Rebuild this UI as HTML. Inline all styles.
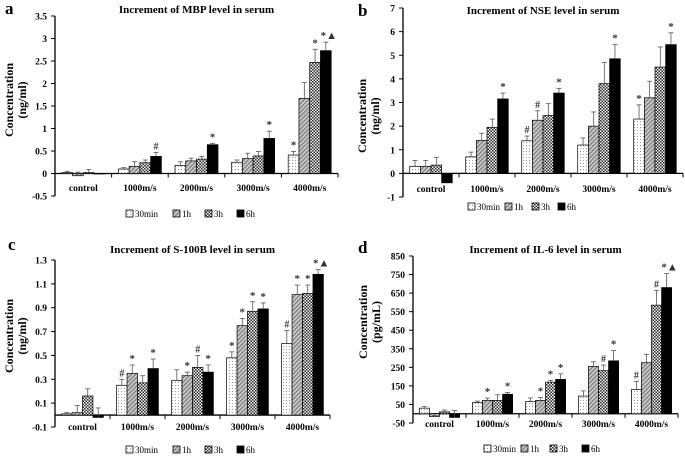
<!DOCTYPE html>
<html><head><meta charset="utf-8"><style>
html,body{margin:0;padding:0;background:#fff;}
svg{display:block;font-family:"Liberation Serif",serif;font-weight:bold;}
</style></head><body>
<svg id="fig" width="685" height="457" viewBox="0 0 685 457" xmlns="http://www.w3.org/2000/svg">
<defs>
<pattern id="p30" width="3" height="3" patternUnits="userSpaceOnUse"><rect width="3" height="3" fill="#fff"/><rect x="1" y="1" width="1" height="1" fill="#999"/></pattern>
<pattern id="p1h" width="3" height="3" patternUnits="userSpaceOnUse" patternTransform="rotate(45)"><rect width="3" height="3" fill="#ccc"/><rect width="1.2" height="3" fill="#777"/></pattern>
<pattern id="p3h" width="3" height="3" patternUnits="userSpaceOnUse"><rect width="3" height="3" fill="#fff"/><rect width="1.5" height="1.5" fill="#222"/><rect x="1.5" y="1.5" width="1.5" height="1.5" fill="#222"/></pattern>
</defs>
</svg>
<script>
const categories=["control","1000m/s","2000m/s","3000m/s","4000m/s"];
const seriesNames=["30min","1h","3h","6h"];
const aTitle="Increment of MBP level in serum";
const aTicks=["-0.5","0","0.5","1","1.5","2","2.5","3","3.5"];
const a30=[0.02,0.10,0.18,0.25,0.41];
const a1h=[-0.05,0.16,0.28,0.33,1.67];
const a3h=[0.02,0.24,0.32,0.39,2.47];
const a6h=[0.0,0.38,0.64,0.78,2.73];
const aErr=[[0.03,0.03,0.08,0.05,0.08],[0.08,0.10,0.06,0.12,0.35],[0.07,0.06,0.06,0.10,0.29],[0,0.09,0.03,0.16,0.19]];
const aMarks=[["","","","","*"],["","","","",""],["","","","","*"],["","#","*","*","*▲"]];
const bTitle="Increment of NSE level in serum";
const bTicks=["-1","0","1","2","3","4","5","6","7"];
const b30=[0.3,0.7,1.38,1.2,2.3];
const b1h=[0.3,1.4,2.25,2.0,3.2];
const b3h=[0.35,1.95,2.45,3.8,4.5];
const b6h=[-0.4,3.15,3.4,4.85,5.45];
const bErr=[[0.25,0.2,0.2,0.3,0.6],[0.25,0.3,0.4,0.6,0.7],[0.33,0.35,0.5,0.9,0.85],[0,0.25,0.2,0.6,0.5]];
const bMarks=[["","","#","","*"],["","","#","",""],["","","","",""],["","*","*","*","*"]];
const cTitle="Increment of S-100B level in serum";
const cTicks=["-0.1","0.1","0.3","0.5","0.7","0.9","1.1","1.3"];
const c30=[0.01,0.25,0.29,0.48,0.60];
const c1h=[0.02,0.35,0.33,0.75,1.01];
const c3h=[0.16,0.27,0.40,0.87,1.02];
const c6h=[-0.02,0.39,0.36,0.89,1.18];
const cErr=[[0.01,0.05,0.09,0.05,0.11],[0.06,0.07,0.03,0.06,0.08],[0.06,0.06,0.1,0.08,0.07],[0.08,0.08,0.06,0.05,0.04]];
const cMarks=[["","#","","*","#"],["","*","*","*","*"],["","","#","*","*"],["","*","*","*","*▲"]];
const dTitle="Increment of IL-6 level in serum";
const dTicks=["-50","50","150","250","350","450","550","650","750","850"];
const d30=[30,60,65,95,130];
const d1h=[-15,72,72,255,275];
const d3h=[10,72,170,232,585];
const d6h=[-20,105,185,285,680];
const dErr=[[8,8,20,28,45],[5,12,15,25,45],[10,30,10,30,80],[38,10,30,55,75]];
const dMarks=[["","","","","#"],["","*","*","",""],["","","*","#","#"],["","*","*","*","*▲"]];

const NS="http://www.w3.org/2000/svg";
const svg=document.getElementById('fig');
const fills=["url(#p30)","url(#p1h)","url(#p3h)","#000"];
function mk(tag,attrs,parent){const e=document.createElementNS(NS,tag);for(const k in attrs)e.setAttribute(k,attrs[k]);(parent||svg).appendChild(e);return e;}
function txt(s,attrs,parent){const e=mk('text',attrs,parent);e.textContent=s;return e;}

function panel(cfg){
  const g=mk('g',{});
  
  
  const ticks=cfg.ticks.map(Number);
  const vmin=ticks[0],vmax=ticks[ticks.length-1];
  const y=v=>cfg.yTop+(vmax-v)/(vmax-vmin)*(cfg.yBot-cfg.yTop);
  const step=(cfg.xEnd-cfg.x0)/categories.length;
  const cx=i=>cfg.x0+step*(i+0.5);
  const bw=step*0.19;
  const L=txt(cfg.letter,{x:cfg.lx,y:cfg.ly,'font-size':17},g);
  
  
  const T=txt(cfg.title,{x:(cfg.x0+cfg.xEnd)/2,y:cfg.ty,'font-size':11,'text-anchor':'middle'},g);
  
  
  const yt=mk('text',{'font-size':12,'text-anchor':'middle',transform:`translate(${cfg.yx},${cfg.yy}) rotate(-90)`},g);
  
  
  const t1=mk('tspan',{x:0,y:0},yt);t1.textContent="Concentration";
  const t2=mk('tspan',{x:0,y:13},yt);t2.textContent=cfg.unit;
  const ya=mk('line',{x1:cfg.x0,x2:cfg.x0,y1:y(vmax),y2:y(vmin),stroke:'#000','stroke-width':1.3},g);
  
  
  cfg.ticks.forEach((t,i)=>{
    const v=ticks[i];
    mk('line',{x1:cfg.x0-4,x2:cfg.x0,y1:y(v),y2:y(v),stroke:'#000','stroke-width':1},g);
    const tl=txt(t,{x:cfg.x0-8,y:y(v)+3.5,'font-size':9.5,'text-anchor':'end'},g);
    
    
  });
  const xa=mk('line',{x1:cfg.x0,x2:cfg.xEnd,y1:y(0),y2:y(0),stroke:'#000','stroke-width':1.3},g);
  
  
  for(let i=0;i<=categories.length;i++){
    mk('line',{x1:cfg.x0+step*i,x2:cfg.x0+step*i,y1:y(0),y2:y(0)+4,stroke:'#000','stroke-width':1},g);
  }
  categories.forEach((c,i)=>{
    const cl=txt(c,{x:cx(i),y:cfg.cy,'font-size':9.5,'text-anchor':'middle'},g);
    
    
    cfg.series.forEach((s,k)=>{
      const v=s[i];
      const x=cx(i)-2*bw+k*bw;
      const top=Math.min(y(v),y(0)),h=Math.abs(y(v)-y(0));
      const r=mk('rect',{x:x,y:top,width:bw,height:Math.max(h,0.5),fill:fills[k],stroke:'#000','stroke-width':0.7},g);
      
      
      const e=cfg.err[k][i];
      let ey=Math.min(y(v),y(0));
      if(e>0){
        const y2=y(v+e);
        mk('line',{x1:x+bw/2,x2:x+bw/2,y1:y(v),y2:y2,stroke:'#555','stroke-width':0.8},g);
        mk('line',{x1:x+bw/2-2.5,x2:x+bw/2+2.5,y1:y2,y2:y2,stroke:'#555','stroke-width':0.8},g);
        ey=Math.min(y2,ey);
      }
      const m=cfg.marks[k][i];
      if(m){
        const mt=txt(m,{x:x+bw/2+(m.length>1?3:0),y:ey-3,'font-size':m==='#'?10:11,'text-anchor':'middle',fill:'#333'},g);
        
        
      }
    });
  });
  const lg=mk('g',{},g);
  
  
  seriesNames.forEach((n,k)=>{
    const lx=cfg.leg[k];
    mk('rect',{x:lx,y:cfg.legY-7,width:7,height:7,fill:fills[k],stroke:'#000','stroke-width':0.8},lg);
    const le=txt(n,{x:lx+9,y:cfg.legY,'font-size':9,'font-weight':'normal'},lg);
    
    
  });
}
panel({letter:'a',lx:5,ly:14,title:aTitle,ty:13,ticks:aTicks,series:[a30,a1h,a3h,a6h],err:aErr,marks:aMarks,x0:55,xEnd:338,yTop:16,yBot:196,cy:191,yx:13,yy:100,unit:"(ng/ml)",leg:[126,173,205,237],legY:217});
panel({letter:'b',lx:358,ly:16,title:bTitle,ty:14,ticks:bTicks,series:[b30,b1h,b3h,b6h],err:bErr,marks:bMarks,x0:403,xEnd:683,yTop:8,yBot:197,cy:192,yx:366,yy:116,unit:"(ng/ml)",leg:[468,505,532,558],legY:210});
panel({letter:'c',lx:8,ly:250,title:cTitle,ty:253,ticks:cTicks,series:[c30,c1h,c3h,c6h],err:cErr,marks:cMarks,x0:55,xEnd:330,yTop:260,yBot:427,cy:430,yx:13,yy:336,unit:"(ng/ml)",leg:[126,173,205,237],legY:453});
panel({letter:'d',lx:358,ly:253,title:dTitle,ty:253,ticks:dTicks,series:[d30,d1h,d3h,d6h],err:dErr,marks:dMarks,x0:413,xEnd:678,yTop:256,yBot:423,cy:427,yx:367,yy:322,unit:"(pg/mL)",leg:[484,521,550,582],legY:452});
</script>
</body></html>
